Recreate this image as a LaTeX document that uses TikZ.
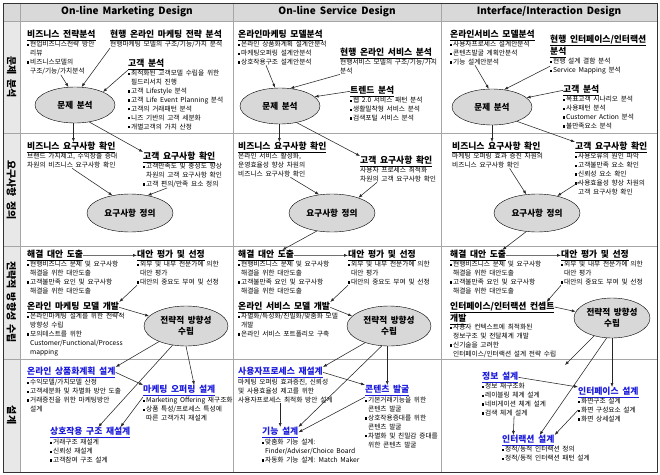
\documentclass[tikz,border=0pt]{standalone}
\usepackage{fontspec}
\setmainfont{Noto Sans CJK KR}[WordSpace=1.8]
\usetikzlibrary{shapes.geometric}
\usetikzlibrary{arrows.meta}
\definecolor{hdgray}{RGB}{217,217,217}
\definecolor{lbgray}{RGB}{232,232,232}
\definecolor{ovgray}{RGB}{216,216,216}
\definecolor{dsblue}{RGB}{28,28,220}
\newcommand\itm{\rule[0.9pt]{2.2pt}{2.2pt}\hspace{0.7pt}}
\newcommand\ind{\hspace*{2.9pt}}
\newcommand\utl[1]{\underline{#1}}

\begin{document}
\begin{tikzpicture}[x=1pt,y=-1pt,
  ttl/.style={anchor=north west,inner sep=0pt,align=left,font=\fontsize{8.8}{10.5}\selectfont\bfseries},
  bttl/.style={ttl,text=dsblue},
  txt/.style={anchor=north west,inner sep=0pt,align=left,font=\fontsize{6.7}{8.9}\selectfont},
  oval/.style={ellipse,draw,fill=ovgray,inner sep=0pt,align=center,font=\fontsize{8.6}{10.5}\selectfont\bfseries},
  ov1/.style={oval,minimum width=80pt,minimum height=36pt},
  ov2/.style={oval,minimum width=86pt,minimum height=38pt},
  ov3/.style={oval,minimum width=84pt,minimum height=40pt},
  ov4/.style={oval,minimum width=76pt,minimum height=40pt},
  arr/.style={draw=black!85,line width=0.55pt,-{Latex[length=4pt,width=3pt]}},
  hdr/.style={font=\fontsize{10}{12}\selectfont\bfseries},
  rowlbl/.style={rotate=-90,font=\fontsize{10}{12}\selectfont\bfseries}]
\useasboundingbox (0,0) rectangle (660,474);
\fill[white] (0,0) rectangle (660,474);
\fill[hdgray] (3,3) rectangle (657,21);
\fill[lbgray] (3,21) rectangle (20,472);
\draw[gray!70] (3,21) -- (657,21) (3,133) -- (657,133) (3,246) -- (657,246) (3,359) -- (657,359);
\draw[gray!70] (20,3) -- (20,472) (233,3) -- (233,472) (441,3) -- (441,472);
\draw[black!80] (3,3) rectangle (657,472);

\node[hdr] (h1) at (127,12) {On-line Marketing Design};
\node[hdr] (h2) at (337,12) {On-line Service Design};
\node[hdr] (h3) at (549,12) {Interface/Interaction Design};
\node[rowlbl] (r1) at (11.5,77) {문제 분석};
\node[rowlbl] (r2) at (11.5,190) {요구사항 정의};
\node[rowlbl] (r3) at (11.5,302) {전략적 방향성 수립};
\node[rowlbl] (r4) at (11.5,415) {설계};

\node[ttl] (lt1) at (27,30) {\utl{비즈니스 전략분석}};
\node[txt] (lb1) at (27,41) {\itm 현업비즈니스전략 방안\\\ind 리뷰\\\itm 비즈니스모델의\\\ind 구조/기능/가치분석};
\node[ttl] (lt2) at (110,30) {\utl{현행 온라인 마케팅 전략 분석}};
\node[txt] (lb2) at (110,41) {현행마케팅 모델의 구조/기능/가치 분석};
\node[ttl] (lt3) at (128,59) {\utl{고객 분석}};
\node[txt] (lb3) at (128,70) {\itm 최적화된 고객모델 수립을 위한\\\ind 필드리서치 진행\\\itm 고객 Lifestyle 분석\\\itm 고객 Life Event Planning 분석\\\itm 고객의 거래패턴 분석\\\itm 니즈 기반의 고객 세분화\\\itm 개별고객의 가치 산정};
\node[ov1] (le1) at (75,105) {문제 분석};
\node[ttl] (lt4) at (27,142) {\utl{비즈니스 요구사항 확인}};
\node[txt] (lb4) at (27,153) {브랜드 가치제고, 수익창출 증대\\차원의 비즈니스 요구사항 확인};
\node[ttl] (lt5) at (143,152) {\utl{고객 요구사항 확인}};
\node[txt] (lb5) at (143,163) {\itm 고객만족도 및 충성도 향상\\\ind 차원의 고객 요구사항 확인\\\itm 고객 편의/만족 요소 정의};
\node[ov2] (le2) at (130,213) {요구사항 정의};
\node[ttl] (lt6) at (27,250) {\utl{해결 대안 도출}};
\node[txt] (lb6) at (27,261) {\itm 현행비즈니스 문제 및 요구사항\\\ind 해결을 위한 대안도출\\\itm 고객불만족 요인 및 요구사항\\\ind 해결을 위한 대안도출};
\node[ttl] (lt7) at (137,250) {\utl{대안 평가 및 선정}};
\node[txt] (lb7) at (137,261) {\itm 외부 및 내부 전문가에 의한\\\ind 대안 평가\\\itm 대안의 중요도 부여 및 선정};
\node[ttl] (lt8) at (27,302) {\utl{온라인 마케팅 모델 개발}};
\node[txt] (lb8) at (27,313) {\itm 온라인마케팅 설계를 위한 전략적\\\ind 방향성 수립\\\itm 모의테스트를 위한\\\ind Customer/Functional/Process\\\ind mapping};
\node[ov3] (le3) at (186,326) {전략적 방향성\\수립};
\node[bttl] (lt9) at (27,367) {\utl{온라인 상품화계획 설계}};
\node[txt] (lb9) at (27,379) {\itm 수익모델/가치모델 산정\\\itm 고객세분화 및 차별화 방안 도출\\\itm 거래증진을 위한 마케팅방안\\\ind 설계};
\node[bttl] (lt10) at (143,385) {\utl{마케팅 오퍼링 설계}};
\node[txt] (lb10) at (143,397) {\itm Marketing Offering 재구조화\\\itm 상품 특성/프로세스 특성에\\\ind 따른 고객가치 재설계};
\node[bttl] (lt11) at (50,427) {\utl{상호작용 구조 재설계}};
\node[txt] (lb11) at (50,439) {\itm 거래구조 재설계\\\itm 신뢰성 재설계\\\itm 고객참여 구조 설계};

\draw[arr] (lb1.south) -- (le1.110);
\draw[arr] (lb2.south west) -- (le1.70);
\draw[arr] (lb3.north west) -- (le1.25);
\draw[arr] (le1.265) -- (le1.265 |- lt4.north);
\draw[arr] (le1.-50) -- (lt5.north west);
\draw[arr] (lb4.south) -- (le2.135);
\draw[arr] ([xshift=24pt]lb5.south west) -- (le2.45);
\draw[arr] (lt6.east) -- (lt7.west);
\draw[arr] (lb7.south west) -- (lt8.north east);
\draw[arr] (lt8.east) -- (le3.165);
\draw[arr] (le3.210) -- (lt9.north east);
\draw[arr] (le3.-90) -- ([xshift=15pt]lt10.north);
\draw[arr] (le3.235) -- ([xshift=8pt]lt11.north);
\draw[arr] (lt9.east) -- (lt10.north west);
\draw[arr] (lb10.north west) -- ([xshift=-10pt]lt11.north east);

\node[ttl] (mt1) at (238,30) {\utl{온라인마케팅 모델분석}};
\node[txt] (mb1) at (238,41) {\itm 온라인 상품화계획 설계안분석\\\itm 마케팅오퍼링 설계안분석\\\itm 상호작용구조 설계안분석};
\node[ttl] (mt2) at (340,48) {\utl{현행 온라인 서비스 분석}};
\node[txt] (mb2) at (340,59) {현행서비스 모델의 구조/기능/가치\\분석};
\node[ttl] (mt3) at (350,86) {\utl{트렌드 분석}};
\node[txt] (mb3) at (350,97) {\itm 웹 2.0 서비스 패턴 분석\\\itm 생활밀착형 서비스 분석\\\itm 검색포털 서비스 분석};
\node[ov1] (me1) at (280,106) {문제 분석};
\node[ttl] (mt4) at (238,142) {\utl{비즈니스 요구사항 확인}};
\node[txt] (mb4) at (238,153) {온라인 서비스 활성화,\\운영효율성 향상 차원의\\비즈니스 요구사항 확인};
\node[ttl] (mt5) at (360,156) {\utl{고객 요구사항 확인}};
\node[txt] (mb5) at (360,167) {사용자 프로세스 최적화\\차원의 고객 요구사항 확인};
\node[ov2] (me2) at (332,213) {요구사항 정의};
\node[ttl] (mt6) at (238,250) {\utl{해결 대안 도출}};
\node[txt] (mb6) at (238,261) {\itm 현행비즈니스 문제 및 요구사항\\\ind 해결을 위한 대안도출\\\itm 고객불만족 요인 및 요구사항\\\ind 해결을 위한 대안도출};
\node[ttl] (mt7) at (348,250) {\utl{대안 평가 및 선정}};
\node[txt] (mb7) at (348,261) {\itm 외부 및 내부 전문가에 의한\\\ind 대안 평가\\\itm 대안의 중요도 부여 및 선정};
\node[ttl] (mt8) at (238,302) {\utl{온라인 서비스 모델 개발}};
\node[txt] (mb8) at (238,313) {\itm 차별화/특성화/친밀화/맞춤화 모델\\\ind 개발\\\itm 온라인 서비스 포트폴리오 구축};
\node[ov3] (me3) at (389,326) {전략적 방향성\\수립};
\node[bttl] (mt9) at (238,367) {\utl{사용자프로세스 재설계}};
\node[txt] (mb9) at (238,379) {마케팅 오퍼링 효과증진, 신뢰성\\및 사용효율성 제고를 위한\\사용자프로세스 최적화 방안 설계};
\node[bttl] (mt10) at (365,385) {\utl{콘텐츠 발굴}};
\node[txt] (mb10) at (365,397) {\itm 기본거래기능을 위한\\\ind 콘텐츠 발굴\\\itm 상호작용증대를 위한\\\ind 콘텐츠 발굴\\\itm 차별화 및 친밀감 증대를\\\ind 위한 콘텐츠 발굴};
\node[bttl] (mt11) at (262,427) {\utl{기능 설계}};
\node[txt] (mb11) at (262,439) {\itm 맞춤화 기능 설계:\\\ind Finder/Adviser/Choice Board\\\itm 자동화 기능 설계: Match Maker};

\draw[arr] ([xshift=28pt]mb1.south west) -- (me1.105);
\draw[arr] (mb2.south west) -- (me1.60);
\draw[arr] (mt3.west) -- (me1.15);
\draw[arr] (me1.268) -- (me1.268 |- mt4.north);
\draw[arr] (me1.-45) -- (mt5.north west);
\draw[arr] ([xshift=-15pt]mb4.south east) -- (me2.125);
\draw[arr] ([xshift=17pt]mb5.south west) -- (me2.30);
\draw[arr] (me2.230) -- ([xshift=-12pt]mt6.north east);
\draw[arr] (mt6.east) -- (mt7.west);
\draw[arr] (mb7.south west) -- (mt8.north east);
\draw[arr] (mt8.east) -- (me3.165);
\draw[arr] (me3.215) -- (mt9.north east);
\draw[arr] (me3.south -| mt10.north) -- (mt10.north);
\draw[arr] (me3.250) -- (mt11.north east);
\draw[arr] (mt9.east) -- (mt10.north west);
\draw[arr] (mb9.south -| mt11.north) -- (mt11.north);
\draw[arr] (mb10.north west) -- (mt11.east);

\node[ttl] (rt1) at (450,30) {\utl{온라인서비스 모델분석}};
\node[txt] (rb1) at (450,41) {\itm 사용자프로세스 설계안분석\\\itm 콘텐츠발굴 계획안분석\\\itm 기능 설계안분석};
\node[ttl] (rt2) at (550,35) {\utl{현행 인터페이스/인터랙션}\\\utl{분석}};
\node[txt] (rb2) at (550,58) {\itm 현행 설계 결함 분석\\\itm Service Mapping 분석};
\node[ttl] (rt3) at (563,85) {\utl{고객 분석}};
\node[txt] (rb3) at (563,96) {\itm 목표고객 시나리오 분석\\\itm 사용패턴 분석\\\itm Customer Action 분석\\\itm 불만족요소 분석};
\node[ov1] (re1) at (492,107) {문제 분석};
\node[ttl] (rt4) at (452,142) {\utl{비즈니스 요구사항 확인}};
\node[txt] (rb4) at (452,153) {마케팅 오퍼링 효과 증진 차원의\\비즈니스 요구사항 확인};
\node[ttl] (rt5) at (575,142) {\utl{고객 요구사항 확인}};
\node[txt] (rb5) at (575,153) {\itm 사용오류의 원인 파악\\\itm 고객불만족 요소 확인\\\itm 신뢰성 요소 확인\\\itm 사용효율성 향상 차원의\\\ind 고객 요구사항 확인};
\node[ov2] (re2) at (537,213) {요구사항 정의};
\node[ttl] (rt6) at (450,250) {\utl{해결 대안 도출}};
\node[txt] (rb6) at (450,261) {\itm 현행비즈니스 문제 및 요구사항\\\ind 해결을 위한 대안도출\\\itm 고객불만족 요인 및 요구사항\\\ind 해결을 위한 대안도출};
\node[ttl] (rt7) at (561,250) {\utl{대안 평가 및 선정}};
\node[txt] (rb7) at (561,261) {\itm 외부 및 내부 전문가에 의한\\\ind 대안 평가\\\itm 대안의 중요도 부여 및 선정};
\node[ttl] (rt8) at (450,302) {\utl{인터페이스/인터랙션 컨셉트}\\\utl{개발}};
\node[txt] (rb8) at (450,324) {\itm 사용자 컨텍스트에 최적화된\\\ind 정보구조 및 전달체계 개발\\\itm 신기술을 고려한\\\ind 인터페이스/인터랙션 설계 전략 수립};
\node[ov4] (re3) at (612,318) {전략적 방향성\\수립};
\node[bttl] (rt9) at (482,372) {\utl{정보 설계}};
\node[txt] (rb9) at (482,383) {\itm 정보 재구조화\\\itm 레이블링 체계 설계\\\itm 네비게이션 체계 설계\\\itm 검색 체계 설계};
\node[bttl] (rt10) at (578,387) {\utl{인터페이스 설계}};
\node[txt] (rb10) at (578,398) {\itm 화면구조 설계\\\itm 화면 구성요소 설계\\\itm 화면 상세설계};
\node[bttl] (rt11) at (502,435) {\utl{인터랙션 설계}};
\node[txt] (rb11) at (502,446) {\itm 정적/동적 인터랙션 정의\\\itm 정적/동적 인터랙션 패턴 설계};
\coordinate (rx1) at (565,365);

\draw[arr] ([xshift=25pt]rb1.south west) -- (re1.100);
\draw[arr] (rb2.west) -- (re1.55);
\draw[arr] (rt3.west) -- (re1.15);
\draw[arr] (re1.south) -- (re1.south |- rt4.north);
\draw[arr] (re1.-30) -- (rt5.north west);
\draw[arr] ([xshift=12pt]rb4.south) -- (re2.120);
\draw[arr] ([xshift=4pt,yshift=-8pt]rb5.west) -- (re2.40);
\draw[arr] (re2.240) -- ([xshift=-4pt]rt6.north east);
\draw[arr] (rt6.east) -- (rt7.west);
\draw[arr] (rb7.south west) -- ([xshift=-8pt]rt8.north east);
\draw[arr] ([yshift=-5pt]rt8.north east) -- (re3.170);
\draw[arr] (re3.225) -- (rx1);
\draw[arr] (re3.south) -- (re3.south |- rt10.north);
\draw[arr] (re3.255) -- ([xshift=-15pt]rt11.north east);
\draw[arr] (rt9.east) -- (rt10.north west);
\draw[arr] (rb9.south) -- ([xshift=-15pt]rt11.north);
\draw[arr] (rb10.west) -- (rt11.north east);
\end{tikzpicture}
\end{document}
